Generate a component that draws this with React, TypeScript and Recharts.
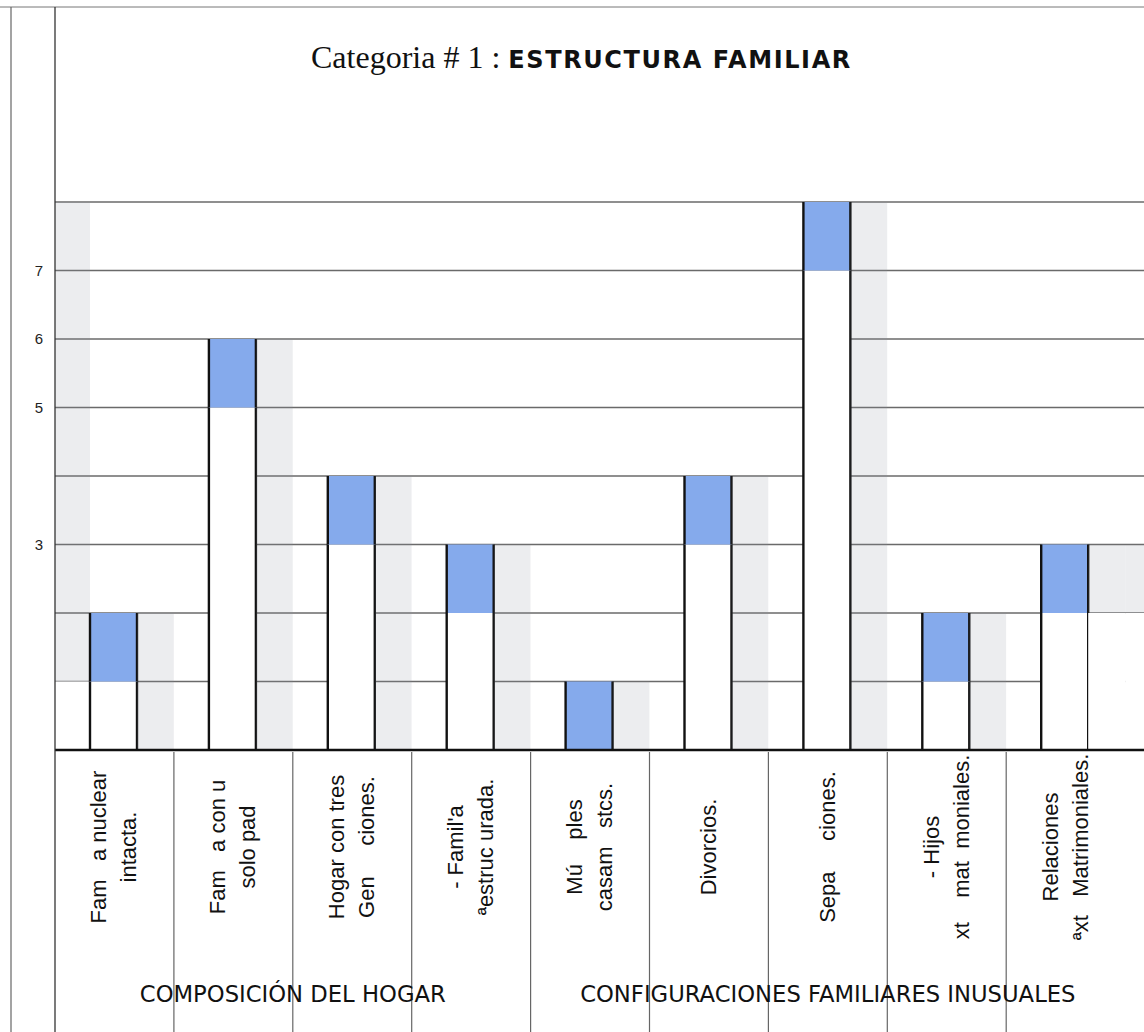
import React from 'react';
import { BarChart, Bar, XAxis, YAxis, CartesianGrid } from 'recharts';

// category labels, as they appear (two lines split by \n); last one is the cut-off slot on the right
const categories = [
  'Fam   a nuclear\nintacta.',
  'Fam   a con u\nsolo pad',
  'Hogar con tres\nGen     ciones.',
  "- Famil'a\nªestruc urada.",
  'Mú    ples\ncasam   stcs.',
  'Divorcios.',
  'Sepa     ciones.',
  '- Hijos\nxt    mat  moniales.',
  'Relaciones\nªxt   Matrimoniales.',
  '',
];

// bar heights (white part + one blue unit on top)
const values = [2, 6, 4, 3, 1, 4, 8, 2, 3, 0];

// grey shading beside the bars: white block under it, grey block on top
const leftWhite = [1, 0, 0, 0, 0, 0, 0, 0, 0, 2];
const leftGrey = [7, 0, 0, 0, 0, 0, 0, 0, 0, 1];
const rightWhite = [0, 0, 0, 0, 0, 0, 0, 0, 2, 0];
const rightGrey = [2, 6, 4, 3, 1, 4, 8, 2, 1, 0];

const yTicks = [0, 1, 2, 3, 4, 5, 6, 7, 8];
const yTickLabels = ['', '', '', '3', '', '5', '6', '7', ''];

const groupNames = ['COMPOSICIÓN DEL HOGAR', 'CONFIGURACIONES FAMILIARES INUSUALES'];
const groupSpans = [[0, 3], [4, 8]];

const W = 1144;
const H = 1032;
const CHART_W = 1244;
const PLOT_LEFT = 55;
const BAND = (CHART_W - PLOT_LEFT) / categories.length;

const BLUE = '#85aaec';
const SANS = '"Liberation Sans", Arial, sans-serif';
const VERDANA = '"DejaVu Sans", Verdana, sans-serif';

const data = categories.map((name, i) => ({
  name,
  base: values[i] > 0 ? values[i] - 1 : 0,
  top: values[i] > 0 ? 1 : 0,
  lw: leftWhite[i],
  lg: leftGrey[i],
  rw: rightWhite[i],
  rg: rightGrey[i],
}));

const OutlinedBar = (props: any) => {
  const { x, y, width, height, fill } = props;
  if (!height || height <= 0) return <g />;
  return (
    <g>
      <rect x={x} y={y} width={width} height={height} fill={fill} />
      <line x1={x} x2={x} y1={y} y2={y + height} stroke="#111" strokeWidth={2.4} />
      <line x1={x + width} x2={x + width} y1={y} y2={y + height} stroke="#111" strokeWidth={2.4} />
    </g>
  );
};

const CategoryTick = (props: any) => {
  const { x, y, payload, index } = props;
  const lines = String(payload.value).split('\n').filter((l) => l.length > 0);
  const n = lines.length;
  const cx = y + 95;
  return (
    <g>
      {index > 0 && index < 9 && (
        <line x1={x - BAND / 2} x2={x - BAND / 2} y1={y} y2={H} stroke="#666" strokeWidth={1.2} />
      )}
      <text
        transform={`translate(${x},${cx}) rotate(-90)`}
        textAnchor="middle"
        fontFamily={SANS}
        fontSize={22}
        fill="#111"
        style={{ whiteSpace: 'pre' }}
      >
        {lines.map((l, i) => (
          <tspan key={i} x={0} y={(i - (n - 1) / 2) * 30 + 7}>
            {l}
          </tspan>
        ))}
      </text>
    </g>
  );
};

export default function App() {
  return (
    <div style={{ position: 'absolute', left: 0, top: 0, width: W, height: H, overflow: 'hidden', background: '#fff' }}>
      <BarChart
        width={CHART_W}
        height={H}
        data={data}
        margin={{ top: 202, right: 0, left: 12, bottom: 0 }}
        barGap={0}
        barCategoryGap={0}
      >
        <CartesianGrid horizontal vertical={false} stroke="#6a6a6a" strokeWidth={1.4} />
        <XAxis
          dataKey="name"
          height={282}
          interval={0}
          tickLine={false}
          tickSize={0}
          axisLine={{ stroke: '#111', strokeWidth: 2.6 }}
          tick={<CategoryTick />}
        />
        <YAxis
          width={43}
          domain={[0, 8]}
          ticks={yTicks}
          axisLine={false}
          tickLine={false}
          tickSize={0}
          tickMargin={12}
          tickFormatter={(v: number) => yTickLabels[v] ?? ''}
          tick={{ fontFamily: SANS, fontSize: 15, fill: '#222' }}
        />
        <Bar dataKey="lw" stackId="l" barSize={35} fill="#ffffff" isAnimationActive={false} />
        <Bar dataKey="lg" stackId="l" barSize={35} fill="#8c93a0" fillOpacity={0.17} isAnimationActive={false} />
        <Bar dataKey="base" stackId="m" barSize={47} fill="#ffffff" shape={OutlinedBar} isAnimationActive={false} />
        <Bar dataKey="top" stackId="m" barSize={47} fill={BLUE} shape={OutlinedBar} isAnimationActive={false} />
        <Bar dataKey="rw" stackId="r" barSize={36.8} fill="#ffffff" isAnimationActive={false} />
        <Bar dataKey="rg" stackId="r" barSize={36.8} fill="#8c93a0" fillOpacity={0.17} isAnimationActive={false} />
      </BarChart>
      <svg
        width={W}
        height={H}
        style={{ position: 'absolute', left: 0, top: 0, pointerEvents: 'none' }}
      >
        <line x1={0} x2={W} y1={7} y2={7} stroke="#777" strokeWidth={1} />
        <line x1={11} x2={11} y1={7} y2={H} stroke="#666" strokeWidth={1.2} />
        <line x1={PLOT_LEFT} x2={PLOT_LEFT} y1={7} y2={H} stroke="#333" strokeWidth={1.3} />
        <text x={311} y={68} fill="#111">
          <tspan fontFamily='"Liberation Serif", "Times New Roman", serif' fontSize={32}>
            Categoria # 1 :{' '}
          </tspan>
          <tspan fontFamily={VERDANA} fontWeight="bold" fontSize={24} letterSpacing={1.6}>
            ESTRUCTURA FAMILIAR
          </tspan>
        </text>
        {groupNames.map((g, i) => (
          <text
            key={g}
            x={PLOT_LEFT + (BAND * (groupSpans[i][0] + groupSpans[i][1] + 1)) / 2}
            y={1002}
            textAnchor="middle"
            fontFamily={VERDANA}
            fontSize={22.7}
            fill="#111"
          >
            {g}
          </text>
        ))}
      </svg>
    </div>
  );
}
